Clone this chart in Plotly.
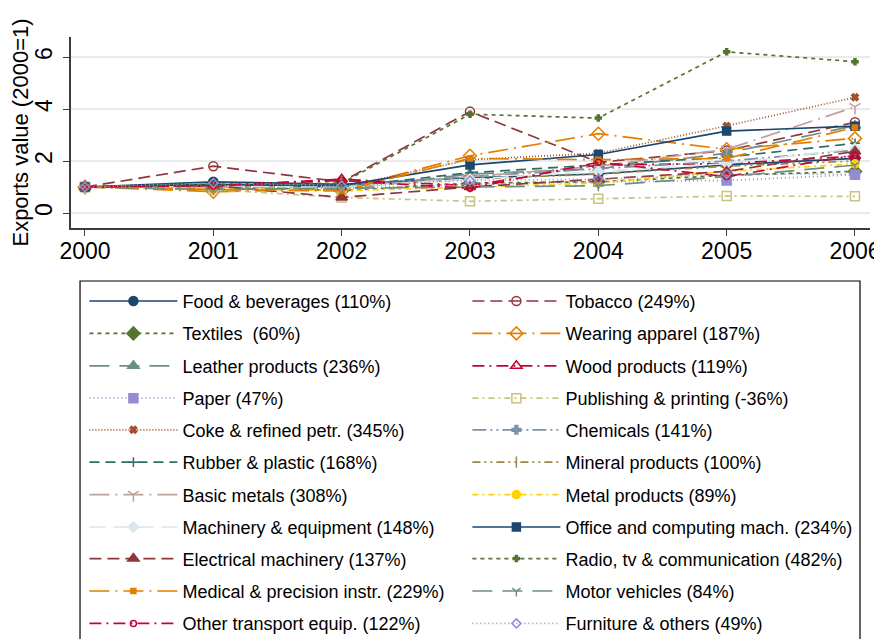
import plotly.graph_objects as go

# years on the x axis
years = [2000, 2001, 2002, 2003, 2004, 2005, 2006]

# sector names as in the legend (order = Stata plot order)
sectors = [
    "Food & beverages (110%)", "Tobacco (249%)",
    "Textiles  (60%)", "Wearing apparel (187%)",
    "Leather products (236%)", "Wood products (119%)",
    "Paper (47%)", "Publishing & printing (-36%)",
    "Coke & refined petr. (345%)", "Chemicals (141%)",
    "Rubber & plastic (168%)", "Mineral products (100%)",
    "Basic metals (308%)", "Metal products (89%)",
    "Machinery & equipment (148%)", "Office and computing mach. (234%)",
    "Electrical machinery (137%)", "Radio, tv & communication (482%)",
    "Medical & precision instr. (229%)", "Motor vehicles (84%)",
    "Other transport equip. (122%)", "Furniture & others (49%)",
]

# exports value index (2000=1)
food = [1.00, 1.20, 1.10, 1.35, 1.50, 1.85, 2.10]
tobacco = [1.00, 1.80, 1.20, 3.90, 1.95, 2.40, 3.49]
textiles = [1.00, 1.05, 0.85, 1.15, 1.20, 1.45, 1.60]
wearing = [1.00, 0.82, 0.90, 2.20, 3.05, 2.45, 2.87]
leather = [1.00, 0.95, 0.90, 1.50, 1.70, 2.30, 3.36]
wood = [1.00, 1.05, 1.30, 1.05, 1.85, 1.90, 2.19]
paper = [1.00, 1.00, 0.95, 1.10, 1.20, 1.25, 1.47]
publishing = [1.00, 0.90, 0.60, 0.45, 0.55, 0.65, 0.64]
coke = [1.00, 1.05, 1.00, 2.05, 2.30, 3.35, 4.45]
chemicals = [1.00, 1.10, 1.05, 1.40, 1.70, 2.00, 2.41]
rubber = [1.00, 1.10, 1.00, 1.55, 1.85, 2.15, 2.68]
mineral = [1.00, 1.00, 1.00, 1.30, 1.50, 1.80, 2.00]
basic_metals = [1.00, 1.00, 0.95, 1.40, 1.80, 2.45, 4.08]
metal = [1.00, 0.95, 0.85, 1.00, 1.15, 1.60, 1.89]
machinery = [1.00, 1.05, 1.00, 1.30, 1.60, 1.90, 2.48]
office = [1.00, 1.10, 1.05, 1.85, 2.25, 3.15, 3.34]
electrical = [1.00, 1.05, 0.60, 1.00, 1.30, 1.60, 2.37]
radio = [1.00, 1.10, 1.15, 3.80, 3.65, 6.20, 5.82]
medical = [1.00, 0.90, 0.85, 2.10, 2.05, 2.10, 3.29]
motor = [1.00, 0.90, 0.95, 1.00, 1.05, 1.40, 1.84]
other_transport = [1.00, 1.05, 1.25, 0.95, 1.95, 1.40, 2.22]
furniture = [1.00, 1.15, 1.05, 1.25, 1.30, 1.50, 1.49]

series = [food, tobacco, textiles, wearing, leather, wood, paper, publishing,
          coke, chemicals, rubber, mineral, basic_metals, metal, machinery,
          office, electrical, radio, medical, motor, other_transport, furniture]

# stata s2color
colors = ["#1a476f", "#90353b", "#55752f", "#e37e00", "#6e8e84", "#c10534",
          "#938dd2", "#cac27e", "#a0522d", "#7b92a8", "#2d6d66", "#9c8847",
          "#bfa19c", "#ffd200", "#d9e6eb", "#1a476f", "#90353b", "#55752f",
          "#e37e00", "#6e8e84", "#c10534", "#938dd2"]

dashes = ["solid", "12px,6px", "4px,4px", "20px,6px,2px,6px", "20px,10px",
          "12px,5px,2px,5px", "1px,3px", "6px,4px,2px,4px", "1px,2px",
          "14px,4px,2px,4px,2px,4px", "10px,6px", "8px,4px,2px,4px,2px,4px",
          "20px,6px,2px,6px", "6px,4px,2px,4px", "16px,8px",
          "solid", "12px,6px", "4px,4px", "20px,6px,2px,6px", "20px,10px",
          "12px,5px,2px,5px", "1px,3px"]

symbols = ["circle", "circle-open", "diamond", "diamond-open", "triangle-up",
           "triangle-up-open", "square", "square-open", "x", "cross",
           "cross-thin-open", "line-ns-open", "y-down-open", "circle", "diamond",
           "square", "triangle-up", "cross", "square", "y-down-open",
           "circle-open", "diamond-open"]

sizes = [9, 9, 10, 10, 10, 10, 9, 9, 6, 7, 7, 8, 9, 8, 8,
         8, 10, 5, 5, 7, 6, 7]

FONT = "Liberation Sans, Arial, sans-serif"

# page body has an 8px margin, so the figure is 8px smaller than the window
W, H = 874, 631

fig = go.Figure()

# two columns, row-major; each column is split into blocks of 4 rows
# (separate legends) so plotly never adds a scrollbar
col_ids = [["legend", "legend3", "legend5"], ["legend2", "legend4", "legend6"]]
for i, (name, vals) in enumerate(zip(sectors, series)):
    col = i % 2
    row = i // 2
    fig.add_trace(go.Scatter(
        x=years, y=vals,
        mode="lines+markers",
        name=name,
        legend=col_ids[col][row // 4],
        legendgroup=name,
        line=dict(color=colors[i], width=1.7, dash=dashes[i]),
        marker=dict(symbol=symbols[i], size=sizes[i], color=colors[i],
                    line=dict(color=colors[i], width=1.5)),
    ))

legend_style = dict(
    orientation="v",
    yanchor="top",
    xanchor="left",
    font=dict(family=FONT, size=18, color="black"),
    itemwidth=88,
    tracegroupgap=6,
    bgcolor="rgba(0,0,0,0)",
)

col_x = [0.01677, 0.4961]
block_y = [-0.2869, -0.9613, -1.6356]

legends = {}
for c in range(2):
    for b in range(3):
        legends[col_ids[c][b]] = dict(x=col_x[c], y=block_y[b], **legend_style)

fig.update_layout(
    width=W, height=H,
    margin=dict(l=63, r=12, t=29, b=411, autoexpand=False),
    paper_bgcolor="white",
    plot_bgcolor="white",
    font=dict(family=FONT, size=22, color="black"),
    showlegend=True,
    xaxis=dict(
        range=[1999.891, 2006.117],
        tickvals=years,
        showgrid=False, zeroline=False,
        showline=True, linecolor="#3c3c3c", linewidth=1.5,
        ticks="outside", ticklen=6, tickcolor="#3c3c3c",
        tickfont=dict(size=23),
        ticklabelstandoff=-4,
        automargin=False,
    ),
    yaxis=dict(
        range=[-0.577, 6.77],
        tickvals=[0, 2, 4, 6],
        tickangle=-90,
        ticklabelstandoff=2,
        showgrid=True, gridcolor="#eaeaea", gridwidth=1.5,
        zeroline=False,
        showline=True, linecolor="#3c3c3c", linewidth=1.5,
        ticks="outside", ticklen=6, tickcolor="#3c3c3c",
        tickfont=dict(size=23),
        title=dict(text="Exports value (2000=1)", font=dict(size=22), standoff=6),
        automargin=False,
    ),
    shapes=[dict(
        type="rect", xref="paper", yref="paper",
        x0=0.0113, x1=0.9875, y0=-0.2775, y1=-2.20,
        line=dict(color="black", width=1.2),
        fillcolor="rgba(0,0,0,0)",
    )],
    **legends,
)

fig.write_html("out.html")
